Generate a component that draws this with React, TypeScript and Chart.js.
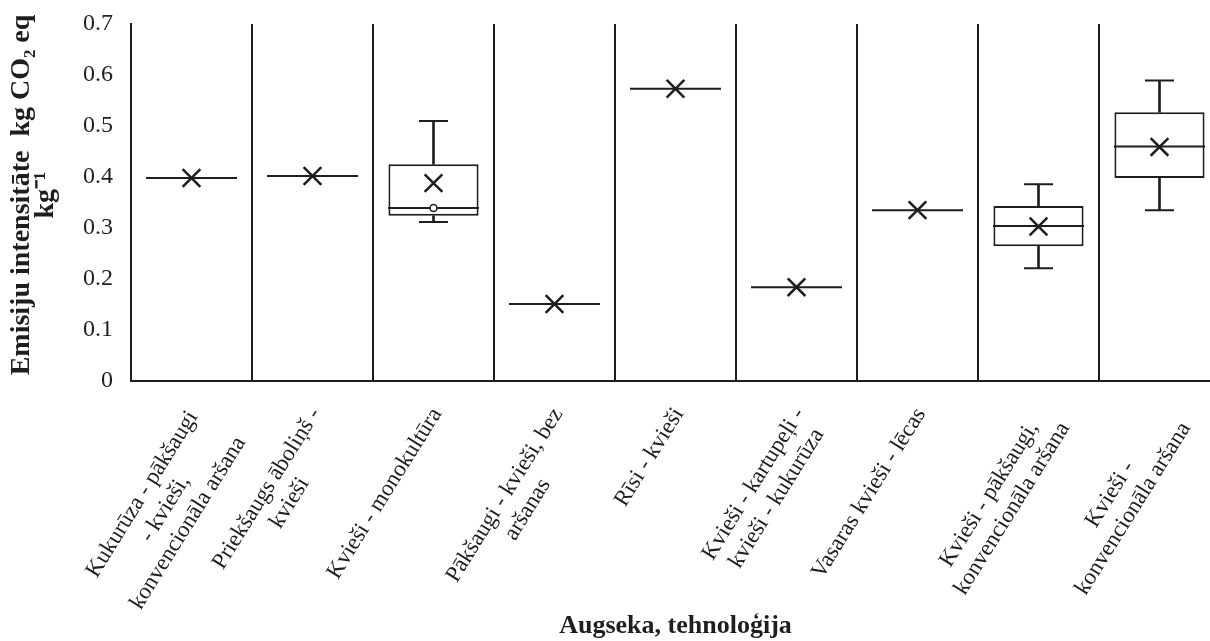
import React, { useEffect, useRef } from 'react';
import { Chart, registerables } from 'chart.js';

Chart.register(...registerables);

// Crop rotation / tillage technologies (one label line per array entry)
const categories: string[][] = [
  ['Kukurūza - pākšaugi', '- kvieši,', 'konvencionāla aršana'],
  ['Priekšaugs āboliņš -', 'kvieši'],
  ['Kvieši - monokultūra'],
  ['Pākšaugi - kvieši, bez', 'aršanas'],
  ['Rīsi - kvieši'],
  ['Kvieši - kartupeļi -', 'kvieši - kukurūza'],
  ['Vasaras kvieši - lēcas'],
  ['Kvieši - pākšaugi,', 'konvencionāla aršana'],
  ['Kvieši -', 'konvencionāla aršana'],
];

// Emission intensity, kg CO2 eq per kg
const minValues = [null, null, 0.312, null, null, null, null, 0.221, 0.335];
const q1Values = [null, null, 0.324, null, null, null, null, 0.264, 0.398];
const medianValues = [0.398, 0.402, 0.339, 0.151, 0.573, 0.184, 0.335, 0.304, 0.46];
const q3Values = [null, null, 0.425, null, null, null, null, 0.343, 0.527];
const maxValues = [null, null, 0.51, null, null, null, null, 0.386, 0.589];
const meanValues = [0.398, 0.402, 0.388, 0.151, 0.573, 0.184, 0.335, 0.303, 0.459];
const innerPointValues = [null, null, 0.339, null, null, null, null, null, null];

const yTickLabels = ['0', '0.1', '0.2', '0.3', '0.4', '0.5', '0.6', '0.7'];
const yTitle = ['Emisiju intensitāte  kg CO₂ eq', 'kg⁻¹'];
const xTitle = 'Augseka, tehnoloģija';

const SERIF = '"Liberation Serif", "Times New Roman", Times, serif';
const INK = '#1e1e1e';

const range = (lo: (number | null)[], hi: (number | null)[]) =>
  lo.map((v, i) => (v == null || hi[i] == null ? null : [v, hi[i] as number]));

// Rotated category labels (lines centred in their block) and the two-line y title
const axisText = {
  id: 'axisText',
  afterDraw(chart: any) {
    const xs = chart.scales.x;
    const ctx = chart.ctx as CanvasRenderingContext2D;
    const angle = (58 * Math.PI) / 180;
    const lineGap = 27;
    ctx.save();
    ctx.fillStyle = INK;
    ctx.textAlign = 'center';
    ctx.textBaseline = 'middle';

    ctx.font = `23px ${SERIF}`;
    categories.forEach((lines, i) => {
      const px = xs.getPixelForValue(i);
      const w = Math.max(...lines.map((l) => ctx.measureText(l).width));
      ctx.save();
      ctx.translate(px - 8, xs.top + 22);
      ctx.rotate(-angle);
      lines.forEach((line, j) => ctx.fillText(line, -w / 2, (j + 0.5) * lineGap));
      ctx.restore();
    });

    ctx.font = `bold 28px ${SERIF}`;
    ctx.save();
    ctx.translate(22, 195);
    ctx.rotate(-Math.PI / 2);
    yTitle.forEach((line, j) => ctx.fillText(line, 0, j * 24));
    ctx.restore();

    ctx.restore();
  },
};

export default function App() {
  const canvasRef = useRef<HTMLCanvasElement | null>(null);

  useEffect(() => {
    const canvas = canvasRef.current;
    if (!canvas) return;

    const pointSet = (data: (number | null)[], extra: any) => ({
      type: 'line',
      data,
      showLine: false,
      pointBorderColor: INK,
      pointBackgroundColor: INK,
      pointHoverRadius: 0,
      ...extra,
    });

    const chart = new Chart(canvas, {
      type: 'bar',
      data: {
        labels: categories.map((c) => c.join(' ')),
        datasets: [
          {
            type: 'bar',
            label: 'whisker-low',
            data: range(minValues, q1Values) as any,
            backgroundColor: INK,
            borderWidth: 0,
            barThickness: 2,
            grouped: false,
            order: 6,
          },
          {
            type: 'bar',
            label: 'whisker-high',
            data: range(q3Values, maxValues) as any,
            backgroundColor: INK,
            borderWidth: 0,
            barThickness: 2,
            grouped: false,
            order: 6,
          },
          {
            type: 'bar',
            label: 'box',
            data: range(q1Values, q3Values) as any,
            backgroundColor: '#ffffff',
            borderColor: INK,
            borderWidth: 2,
            borderSkipped: false,
            grouped: false,
            barPercentage: 0.745,
            categoryPercentage: 1,
            order: 5,
          },
          pointSet(minValues, { label: 'min', pointStyle: 'line', pointRadius: 14.5, pointBorderWidth: 2, order: 3 }),
          pointSet(maxValues, { label: 'max', pointStyle: 'line', pointRadius: 14.5, pointBorderWidth: 2, order: 3 }),
          pointSet(medianValues, { label: 'median', pointStyle: 'line', pointRadius: 45.5, pointBorderWidth: 2, order: 2 }),
          pointSet(innerPointValues, {
            label: 'point',
            pointStyle: 'circle',
            pointRadius: 3.5,
            pointBorderWidth: 1.5,
            pointBackgroundColor: '#ffffff',
            order: 1,
          }),
          pointSet(meanValues, { label: 'mean', pointStyle: 'crossRot', pointRadius: 12.5, pointBorderWidth: 2.5, order: 0 }),
        ] as any,
      },
      options: {
        responsive: false,
        animation: false,
        devicePixelRatio: 1,
        layout: { autoPadding: false, padding: { top: 24, right: 0, bottom: 0, left: 0 } },
        plugins: {
          legend: { display: false },
          tooltip: { enabled: false },
        },
        scales: {
          x: {
            type: 'category',
            offset: true,
            grid: { display: true, offset: true, color: INK, lineWidth: 2, drawTicks: false },
            border: { display: true, color: INK, width: 2 },
            ticks: { display: false },
            title: {
              display: true,
              text: xTitle,
              color: INK,
              font: { family: SERIF, size: 26, weight: 'bold', lineHeight: 1.1 },
              padding: 0,
            },
            afterFit(scale: any) {
              scale.height = 260;
            },
          },
          y: {
            min: 0,
            max: 0.7,
            grid: { display: false, drawTicks: true, tickLength: 18 },
            border: { display: true, color: INK, width: 2 },
            ticks: {
              stepSize: 0.1,
              padding: 0,
              color: INK,
              font: { family: SERIF, size: 24 },
              callback: (_v: any, i: number) => yTickLabels[i],
            },
            title: { display: false },
            afterFit(scale: any) {
              scale.width = 131;
            },
          },
        },
      } as any,
      plugins: [axisText],
    });

    return () => chart.destroy();
  }, []);

  return (
    <div
      style={{
        position: 'fixed',
        left: 0,
        top: 0,
        width: 1210,
        height: 641,
        overflow: 'hidden',
        background: '#ffffff',
      }}
    >
      <canvas
        ref={canvasRef}
        width={1220}
        height={641}
        style={{ width: '1220px', height: '641px', display: 'block' }}
      />
    </div>
  );
}
